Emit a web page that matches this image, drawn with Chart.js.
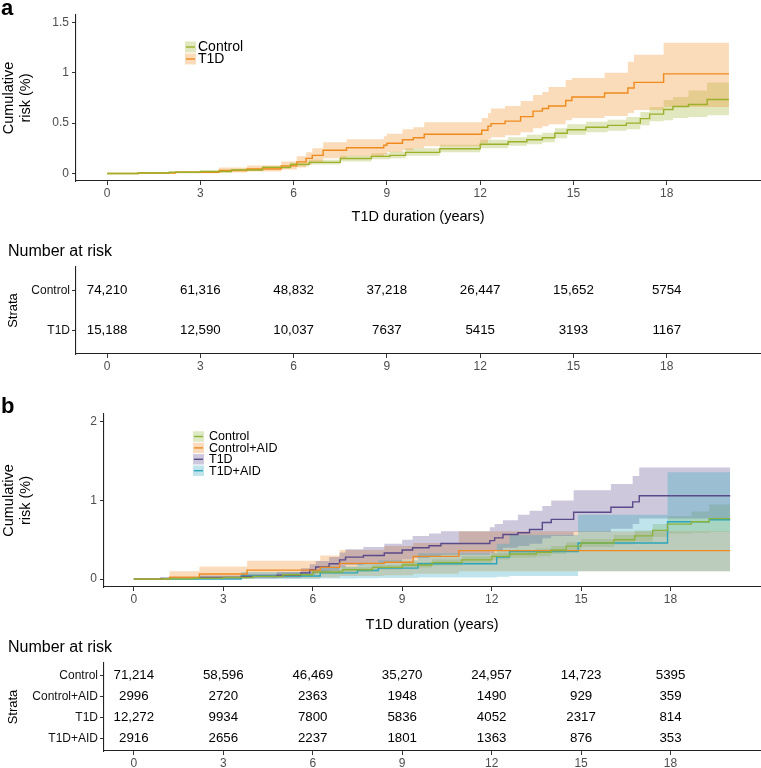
<!DOCTYPE html>
<html>
<head>
<meta charset="utf-8">
<script src="https://cdn.jsdelivr.net/npm/chart.js@4.4.1/dist/chart.umd.min.js"></script>
<style>
  body { margin: 0; background: #fff; }
  #wrap { position: relative; width: 761px; height: 768px; }
  canvas { position: absolute; left: 0; }
</style>
</head>
<body>
<div id="wrap">
  <canvas id="plotA" width="761" height="232" style="top:0px"></canvas>
  <canvas id="tableA" width="761" height="152" style="top:236px"></canvas>
  <canvas id="plotB" width="761" height="245" style="top:390px"></canvas>
  <canvas id="tableB" width="761" height="133" style="top:635px"></canvas>
</div>
<script>
var FONT = "'Liberation Sans', Arial, Helvetica, sans-serif";

// ---- panel a: cumulative risk (%) by T1D duration (years) ----
var timesA_ctrl = [0, 1, 2, 3, 4, 5, 5.9, 6.5, 7.5, 8.5, 9.1, 9.6, 10.7, 12, 12.9, 13.5, 14, 14.4, 14.8, 15.4, 16.1, 16.7, 17.15, 17.45, 17.9, 18.2, 18.7, 19.3, 20];
var riskA_ctrl = [0, 0.005, 0.012, 0.02, 0.035, 0.06, 0.09, 0.11, 0.148, 0.17, 0.18, 0.21, 0.245, 0.29, 0.315, 0.335, 0.355, 0.40, 0.435, 0.46, 0.478, 0.50, 0.545, 0.59, 0.635, 0.665, 0.685, 0.735, 0.735];
var highA_ctrl = [0, 0.008, 0.018, 0.03, 0.047, 0.077, 0.11, 0.135, 0.175, 0.2, 0.215, 0.25, 0.285, 0.335, 0.36, 0.385, 0.405, 0.45, 0.49, 0.515, 0.535, 0.56, 0.61, 0.66, 0.73, 0.76, 0.825, 0.905, 0.905];
var lowA_ctrl = [0, 0.003, 0.008, 0.013, 0.025, 0.045, 0.07, 0.09, 0.12, 0.14, 0.15, 0.175, 0.21, 0.25, 0.275, 0.29, 0.31, 0.35, 0.385, 0.41, 0.425, 0.44, 0.48, 0.52, 0.53, 0.55, 0.56, 0.578, 0.578];

var timesA_t1d = [0, 1, 2.2, 3.6, 4.5, 5.6, 6.1, 6.4, 6.6, 6.95, 7.7, 8.9, 9.0, 9.5, 9.85, 10.2, 12.05, 12.25, 12.35, 12.8, 13.3, 13.7, 14.0, 14.2, 14.75, 14.95, 16.0, 16.75, 16.95, 17.9, 20];
var riskA_t1d = [0, 0.005, 0.012, 0.03, 0.045, 0.075, 0.115, 0.15, 0.18, 0.23, 0.255, 0.28, 0.30, 0.335, 0.355, 0.39, 0.43, 0.47, 0.495, 0.52, 0.565, 0.62, 0.645, 0.67, 0.725, 0.76, 0.80, 0.85, 0.905, 0.99, 0.99];
var highA_t1d = [0, 0.01, 0.025, 0.06, 0.08, 0.12, 0.17, 0.21, 0.25, 0.31, 0.34, 0.37, 0.395, 0.44, 0.46, 0.51, 0.55, 0.6, 0.645, 0.67, 0.72, 0.78, 0.81, 0.86, 0.93, 0.95, 1.0, 1.11, 1.18, 1.30, 1.30];
var lowA_t1d = [0, 0, 0.003, 0.01, 0.02, 0.04, 0.06, 0.09, 0.11, 0.15, 0.17, 0.19, 0.21, 0.23, 0.25, 0.27, 0.30, 0.34, 0.36, 0.38, 0.41, 0.45, 0.47, 0.49, 0.53, 0.55, 0.57, 0.6, 0.63, 0.66, 0.66];

// ---- panel b ----
var timesB_ctrl = [0, 1, 2, 3, 4, 5, 6, 7, 8, 9, 10, 11, 12, 12.6, 13.5, 14, 14.5, 15, 16.1, 16.8, 17.4, 17.9, 18.7, 19.3, 20];
var riskB_ctrl = [0, 0.005, 0.012, 0.02, 0.035, 0.055, 0.09, 0.12, 0.15, 0.18, 0.21, 0.245, 0.29, 0.32, 0.34, 0.37, 0.42, 0.46, 0.5, 0.55, 0.62, 0.7, 0.73, 0.77, 0.77];
var highB_ctrl = [0, 0.01, 0.02, 0.03, 0.05, 0.075, 0.115, 0.15, 0.18, 0.215, 0.25, 0.29, 0.335, 0.37, 0.39, 0.42, 0.47, 0.51, 0.56, 0.62, 0.7, 0.8, 0.86, 0.95, 0.95];
var lowB_ctrl = [0, 0.002, 0.006, 0.012, 0.022, 0.04, 0.068, 0.095, 0.12, 0.148, 0.175, 0.205, 0.25, 0.275, 0.29, 0.32, 0.37, 0.41, 0.44, 0.48, 0.54, 0.58, 0.59, 0.6, 0.6];

var timesB_ctrlAid = [0, 1.2, 2.2, 3.8, 6.25, 6.9, 8.4, 9.37, 10.9, 20];
var riskB_ctrlAid = [0, 0.025, 0.065, 0.115, 0.15, 0.2, 0.215, 0.29, 0.363, 0.363];
var highB_ctrlAid = [0, 0.1, 0.16, 0.235, 0.3, 0.37, 0.42, 0.46, 0.61, 0.61];
var lowB_ctrlAid = [0, 0, 0.004, 0.01, 0.02, 0.04, 0.05, 0.07, 0.1, 0.1];

var timesB_t1d = [0, 0.9, 2.2, 3.6, 4.8, 5.6, 5.9, 6.1, 6.55, 6.9, 7.1, 7.7, 8.4, 9.0, 9.35, 9.9, 10.3, 11.94, 12.1, 12.38, 12.88, 13.27, 13.7, 14.0, 14.75, 16.0, 16.73, 16.95, 20];
var riskB_t1d = [0, 0.01, 0.02, 0.035, 0.05, 0.08, 0.12, 0.155, 0.195, 0.245, 0.28, 0.30, 0.333, 0.37, 0.40, 0.425, 0.453, 0.49, 0.525, 0.568, 0.59, 0.632, 0.72, 0.76, 0.85, 0.915, 0.982, 1.06, 1.06];
var highB_t1d = [0, 0.02, 0.045, 0.07, 0.09, 0.14, 0.19, 0.23, 0.28, 0.34, 0.38, 0.41, 0.45, 0.5, 0.55, 0.58, 0.61, 0.66, 0.70, 0.75, 0.82, 0.87, 0.93, 1.0, 1.13, 1.21, 1.31, 1.42, 1.42];
var lowB_t1d = [0, 0, 0.004, 0.01, 0.018, 0.035, 0.06, 0.085, 0.11, 0.15, 0.18, 0.19, 0.22, 0.25, 0.27, 0.29, 0.31, 0.33, 0.36, 0.4, 0.42, 0.45, 0.52, 0.55, 0.6, 0.64, 0.7, 0.77, 0.77];

var timesB_t1dAid = [0, 3.6, 6.25, 7.5, 8.2, 9.53, 12.17, 12.6, 14.9, 17.9, 19.3, 20];
var riskB_t1dAid = [0, 0.04, 0.08, 0.11, 0.14, 0.195, 0.28, 0.35, 0.46, 0.73, 0.755, 0.755];
var highB_t1dAid = [0, 0.09, 0.16, 0.2, 0.24, 0.33, 0.45, 0.56, 0.82, 1.36, 1.36, 1.36];
var lowB_t1dAid = [0, 0.003, 0.008, 0.012, 0.015, 0.02, 0.03, 0.04, 0.1, 0.1, 0.1, 0.1];

// ---- number at risk tables ----
var riskTimes = [0, 3, 6, 9, 12, 15, 18];
var yTicksA = [0, 0.5, 1, 1.5];
var yTicksB = [0, 1, 2];
var strataA = ["Control", "T1D"];
var atRiskA_ctrl = [74210, 61316, 48832, 37218, 26447, 15652, 5754];
var atRiskA_t1d = [15188, 12590, 10037, 7637, 5415, 3193, 1167];
var strataB = ["Control", "Control+AID", "T1D", "T1D+AID"];
var atRiskB_ctrl = [71214, 58596, 46469, 35270, 24957, 14723, 5395];
var atRiskB_ctrlAid = [2996, 2720, 2363, 1948, 1490, 929, 359];
var atRiskB_t1d = [12272, 9934, 7800, 5836, 4052, 2317, 814];
var atRiskB_t1dAid = [2916, 2656, 2237, 1801, 1363, 876, 353];

var colA = { ctrl: "#9DB02A", t1d: "#F08A1D" };
var colB = { ctrl: "#8DB33C", ctrlAid: "#EE8A22", t1d: "#5A4A8A", t1dAid: "#2BA6BC" };

function band(hex) {
  var r = parseInt(hex.substr(1, 2), 16), g = parseInt(hex.substr(3, 2), 16), b = parseInt(hex.substr(5, 2), 16);
  return "rgba(" + r + "," + g + "," + b + ",0.3)";
}

function fmt(n) {
  return n >= 10000 ? n.toLocaleString("en-US") : String(n);
}

function steps(times, vals) {
  return times.map(function (t, i) { return { x: t, y: vals[i] }; });
}

function curveSets(times, risk, low, high, color, order) {
  var none = "rgba(0,0,0,0)";
  return [
    { data: steps(times, high), stepped: "before", borderColor: none, borderWidth: 0, backgroundColor: band(color), fill: "+1", pointRadius: 0, order: order },
    { data: steps(times, low), stepped: "before", borderColor: none, borderWidth: 0, fill: false, pointRadius: 0, order: order },
    { data: steps(times, risk), stepped: "before", borderColor: color, borderWidth: 1.4, fill: false, pointRadius: 0, order: 0 }
  ];
}

// legend keys + panel letter, drawn in the plot canvas
var keyLegend = {
  id: "keyLegend",
  afterDraw: function (chart, args, opts) {
    var ctx = chart.ctx;
    ctx.save();
    opts.items.forEach(function (it, i) {
      var cy = opts.y + i * opts.rowH;
      ctx.fillStyle = band(it.color);
      ctx.fillRect(opts.x, cy - opts.rowH / 2 + 0.5, opts.w, opts.rowH - 1);
      ctx.strokeStyle = it.color;
      ctx.lineWidth = 1.4;
      ctx.beginPath();
      ctx.moveTo(opts.x + 1, cy);
      ctx.lineTo(opts.x + opts.w - 1, cy);
      ctx.stroke();
      ctx.fillStyle = "#000";
      ctx.font = opts.size + "px " + FONT;
      ctx.textAlign = "left";
      ctx.textBaseline = "middle";
      ctx.fillText(it.label, opts.x + opts.w + opts.gap, cy + 0.5);
    });
    ctx.font = "bold 22px " + FONT;
    ctx.textBaseline = "alphabetic";
    ctx.fillText(opts.letter, 1, opts.letterY);
    ctx.restore();
  }
};

// numbers of the at-risk tables, placed on the dataset points
var cellText = {
  id: "cellText",
  afterDatasetsDraw: function (chart) {
    var ctx = chart.ctx;
    ctx.save();
    ctx.font = "13.3px " + FONT;
    ctx.fillStyle = "#000";
    ctx.textAlign = "center";
    ctx.textBaseline = "middle";
    chart.data.datasets.forEach(function (ds, i) {
      chart.getDatasetMeta(i).data.forEach(function (pt, j) {
        ctx.fillText(fmt(ds.counts[j]), pt.x, pt.y);
      });
    });
    ctx.restore();
  }
};

function xAxis(h, title, titlePad) {
  return {
    type: "linear", min: -1, max: 21,
    afterBuildTicks: function (s) { s.ticks = riskTimes.map(function (v) { return { value: v }; }); },
    afterFit: function (s) { s.height = h; },
    border: { display: true, color: "#222", width: 1.1 },
    grid: { drawOnChartArea: false, drawTicks: true, tickLength: 4, tickColor: "#333", tickWidth: 1 },
    ticks: { color: "#4d4d4d", font: { family: FONT, size: 12 }, padding: 1, maxRotation: 0, autoSkip: false },
    title: { display: !!title, text: title || "", color: "#000", font: { family: FONT, size: 14.5 }, padding: { top: 0, bottom: titlePad || 0 } }
  };
}

function plotOptions(ymin, ymax, yTicks, yWidth, xHeight, titlePad, padTop, legendOpts) {
  return {
    responsive: false, animation: false, devicePixelRatio: 1,
    layout: { padding: { left: 0, top: padTop, right: 1, bottom: 0 } },
    plugins: {
      legend: { display: false }, tooltip: { enabled: false },
      filler: { drawTime: "beforeDatasetsDraw" },
      keyLegend: legendOpts
    },
    scales: {
      x: xAxis(xHeight, "T1D duration (years)", titlePad),
      y: {
        type: "linear", min: ymin, max: ymax,
        afterBuildTicks: function (s) { s.ticks = yTicks.map(function (v) { return { value: v }; }); },
        afterFit: function (s) { s.width = yWidth; },
        border: { display: true, color: "#222", width: 1.1 },
        grid: { drawOnChartArea: false, drawTicks: true, tickLength: 4, tickColor: "#333", tickWidth: 1 },
        ticks: { color: "#4d4d4d", font: { family: FONT, size: 12 }, padding: 3, callback: function (v) { return String(v); } },
        title: { display: true, text: ["Cumulative", "risk (%)"], color: "#000", font: { family: FONT, size: 14.5 }, padding: { top: 0, bottom: 0 } }
      }
    }
  };
}

function tableChart(id, strata, counts, yWidth, xHeight, titleTop) {
  var datasets = strata.map(function (name, i) {
    return {
      label: name,
      counts: counts[i],
      data: riskTimes.map(function (t) { return { x: t, y: i + 1 }; }),
      pointRadius: 0
    };
  });
  return new Chart(document.getElementById(id), {
    type: "scatter",
    data: { datasets: datasets },
    options: {
      responsive: false, animation: false, devicePixelRatio: 1,
      layout: { padding: { left: 8, top: 0, right: 1, bottom: 0 } },
      plugins: {
        legend: { display: false }, tooltip: { enabled: false },
        title: { display: true, text: "Number at risk", align: "start", color: "#000", font: { family: FONT, size: 16, weight: "normal" }, padding: { top: titleTop, bottom: 5.4 } }
      },
      scales: {
        x: xAxis(xHeight),
        y: {
          type: "linear", min: 0.4, max: strata.length + 0.6, reverse: true,
          afterBuildTicks: function (s) { s.ticks = strata.map(function (n, i) { return { value: i + 1 }; }); },
          afterFit: function (s) { s.width = yWidth; },
          border: { display: true, color: "#222", width: 1.1 },
          grid: { drawOnChartArea: false, drawTicks: true, tickLength: 4, tickColor: "#333", tickWidth: 1 },
          ticks: { color: "#111", font: { family: FONT, size: 12 }, padding: 2, callback: function (v) { return strata[v - 1]; } },
          title: { display: true, text: "Strata", color: "#000", font: { family: FONT, size: 13 }, padding: { top: -2, bottom: 0 } }
        }
      }
    },
    plugins: [cellText]
  });
}

// panel a plot
new Chart(document.getElementById("plotA"), {
  type: "line",
  data: {
    datasets: [].concat(
      curveSets(timesA_ctrl, riskA_ctrl, lowA_ctrl, highA_ctrl, colA.ctrl, 2),
      curveSets(timesA_t1d, riskA_t1d, lowA_t1d, highA_t1d, colA.t1d, 1)
    )
  },
  options: plotOptions(-0.075, 1.575, yTicksA, 76, 51, 6.3, 15, {
    x: 185, y: 47, w: 11, rowH: 12, gap: 2, size: 14, letter: "a", letterY: 15,
    items: [{ label: strataA[0], color: colA.ctrl }, { label: strataA[1], color: colA.t1d }]
  }),
  plugins: [keyLegend]
});

tableChart("tableA", strataA, [atRiskA_ctrl, atRiskA_t1d], 68, 34, 6.4);

// panel b plot
new Chart(document.getElementById("plotB"), {
  type: "line",
  data: {
    datasets: [].concat(
      curveSets(timesB_ctrl, riskB_ctrl, lowB_ctrl, highB_ctrl, colB.ctrl, 4),
      curveSets(timesB_ctrlAid, riskB_ctrlAid, lowB_ctrlAid, highB_ctrlAid, colB.ctrlAid, 3),
      curveSets(timesB_t1d, riskB_t1d, lowB_t1d, highB_t1d, colB.t1d, 2),
      curveSets(timesB_t1dAid, riskB_t1dAid, lowB_t1dAid, highB_t1dAid, colB.t1dAid, 1)
    )
  },
  options: plotOptions(-0.1, 2.1, yTicksB, 104, 48, 1.3, 24, {
    x: 193, y: 46.5, w: 11, rowH: 11.4, gap: 5, size: 12.5, letter: "b", letterY: 23,
    items: [
      { label: strataB[0], color: colB.ctrl }, { label: strataB[1], color: colB.ctrlAid },
      { label: strataB[2], color: colB.t1d }, { label: strataB[3], color: colB.t1dAid }
    ]
  }),
  plugins: [keyLegend]
});

tableChart("tableB", strataB, [atRiskB_ctrl, atRiskB_ctrlAid, atRiskB_t1d, atRiskB_t1dAid], 96, 17, 3.4);
</script>
</body>
</html>
